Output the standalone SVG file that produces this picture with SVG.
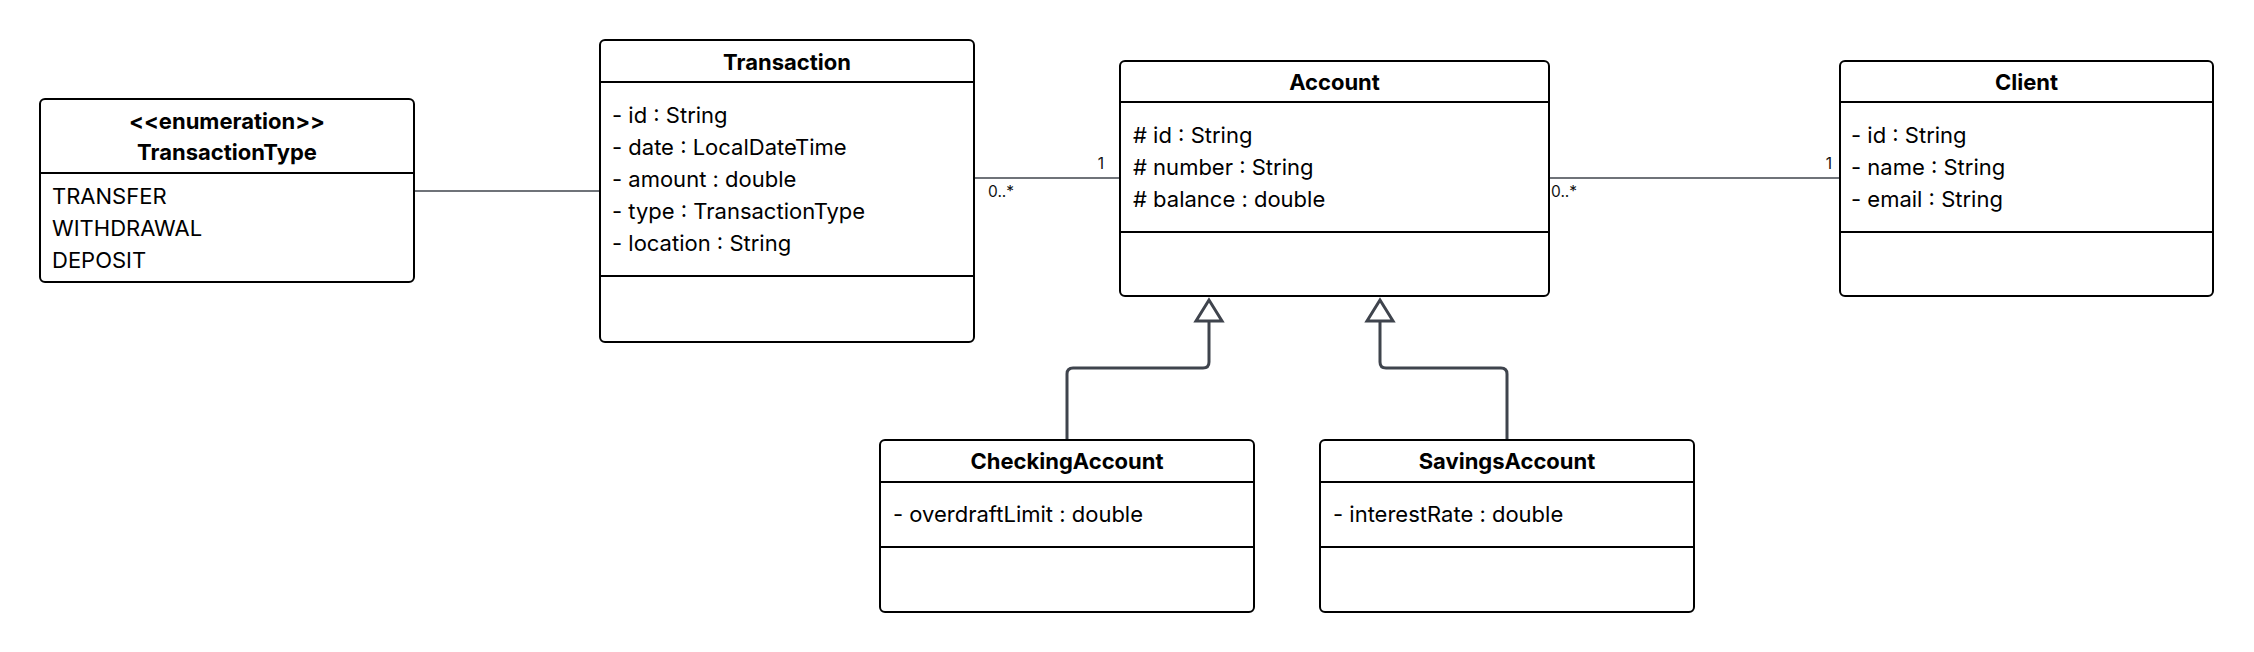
<svg xmlns="http://www.w3.org/2000/svg" width="2254" height="652" viewBox="0 0 2254 652">
<defs>
<style>
.box{fill:#fff;stroke:#000;stroke-width:2}
.dv{stroke:#000;stroke-width:2}
.title{font-family:Inter,"Liberation Sans",sans-serif;font-size:22px;font-weight:700;fill:#000;text-anchor:middle}
.attr{font-family:Inter,"Liberation Sans",sans-serif;font-size:22px;fill:#000}
.assoc{stroke:#3f444d;stroke-width:1.3;fill:none}
.gen{stroke:#3f444d;stroke-width:3;fill:none;stroke-linejoin:round}
.tri{fill:#fff;stroke:#3f444d;stroke-width:3;stroke-linejoin:miter}
.mult{font-family:Inter,"Liberation Sans",sans-serif;font-size:15.5px;fill:#111}
</style>
</defs>
<rect width="2254" height="652" fill="#fff"/>

<g id="connectors">
  <line class="assoc" x1="414" y1="191" x2="600" y2="191"/>
  <line class="assoc" x1="974" y1="178" x2="1120" y2="178"/>
  <text class="mult" x="988" y="197">0..*</text>
  <text class="mult" x="1104" y="169" text-anchor="end">1</text>
  <line class="assoc" x1="1549" y1="178" x2="1840" y2="178"/>
  <text class="mult" x="1551" y="197">0..*</text>
  <text class="mult" x="1832" y="169" text-anchor="end">1</text>
  <path class="gen" d="M1067,440 V374 Q1067,368 1073,368 H1203 Q1209,368 1209,362 V321"/>
  <polygon class="tri" points="1209,300 1196,321 1222,321"/>
  <path class="gen" d="M1507,440 V374 Q1507,368 1501,368 H1386 Q1380,368 1380,362 V321"/>
  <polygon class="tri" points="1380,300 1367,321 1393,321"/>
</g>

<g id="TransactionType">
  <rect class="box" x="40" y="99" width="374" height="183" rx="5"/>
  <line class="dv" x1="40" y1="173" x2="414" y2="173"/>
  <text class="title" x="227" y="129">&lt;&lt;enumeration&gt;&gt;</text>
  <text class="title" x="227" y="160">TransactionType</text>
  <text class="attr" x="52" y="204">TRANSFER</text>
  <text class="attr" x="52" y="236">WITHDRAWAL</text>
  <text class="attr" x="52" y="268">DEPOSIT</text>
</g>

<g id="Transaction">
  <rect class="box" x="600" y="40" width="374" height="302" rx="5"/>
  <line class="dv" x1="600" y1="82" x2="974" y2="82"/>
  <line class="dv" x1="600" y1="276" x2="974" y2="276"/>
  <text class="title" x="787" y="70">Transaction</text>
  <text class="attr" x="612" y="123">- id : String</text>
  <text class="attr" x="612" y="155">- date : LocalDateTime</text>
  <text class="attr" x="612" y="187">- amount : double</text>
  <text class="attr" x="612" y="219">- type : TransactionType</text>
  <text class="attr" x="612" y="251">- location : String</text>
</g>

<g id="Account">
  <rect class="box" x="1120" y="61" width="429" height="235" rx="5"/>
  <line class="dv" x1="1120" y1="102" x2="1549" y2="102"/>
  <line class="dv" x1="1120" y1="232" x2="1549" y2="232"/>
  <text class="title" x="1334.5" y="90">Account</text>
  <text class="attr" x="1133" y="143"># id : String</text>
  <text class="attr" x="1133" y="175"># number : String</text>
  <text class="attr" x="1133" y="207"># balance : double</text>
</g>

<g id="Client">
  <rect class="box" x="1840" y="61" width="373" height="235" rx="5"/>
  <line class="dv" x1="1840" y1="102" x2="2213" y2="102"/>
  <line class="dv" x1="1840" y1="232" x2="2213" y2="232"/>
  <text class="title" x="2026.5" y="90">Client</text>
  <text class="attr" x="1851" y="143">- id : String</text>
  <text class="attr" x="1851" y="175">- name : String</text>
  <text class="attr" x="1851" y="207">- email : String</text>
</g>

<g id="CheckingAccount">
  <rect class="box" x="880" y="440" width="374" height="172" rx="5"/>
  <line class="dv" x1="880" y1="482" x2="1254" y2="482"/>
  <line class="dv" x1="880" y1="547" x2="1254" y2="547"/>
  <text class="title" x="1067" y="469">CheckingAccount</text>
  <text class="attr" x="893" y="522">- overdraftLimit : double</text>
</g>

<g id="SavingsAccount">
  <rect class="box" x="1320" y="440" width="374" height="172" rx="5"/>
  <line class="dv" x1="1320" y1="482" x2="1694" y2="482"/>
  <line class="dv" x1="1320" y1="547" x2="1694" y2="547"/>
  <text class="title" x="1507" y="469">SavingsAccount</text>
  <text class="attr" x="1333" y="522">- interestRate : double</text>
</g>
</svg>
